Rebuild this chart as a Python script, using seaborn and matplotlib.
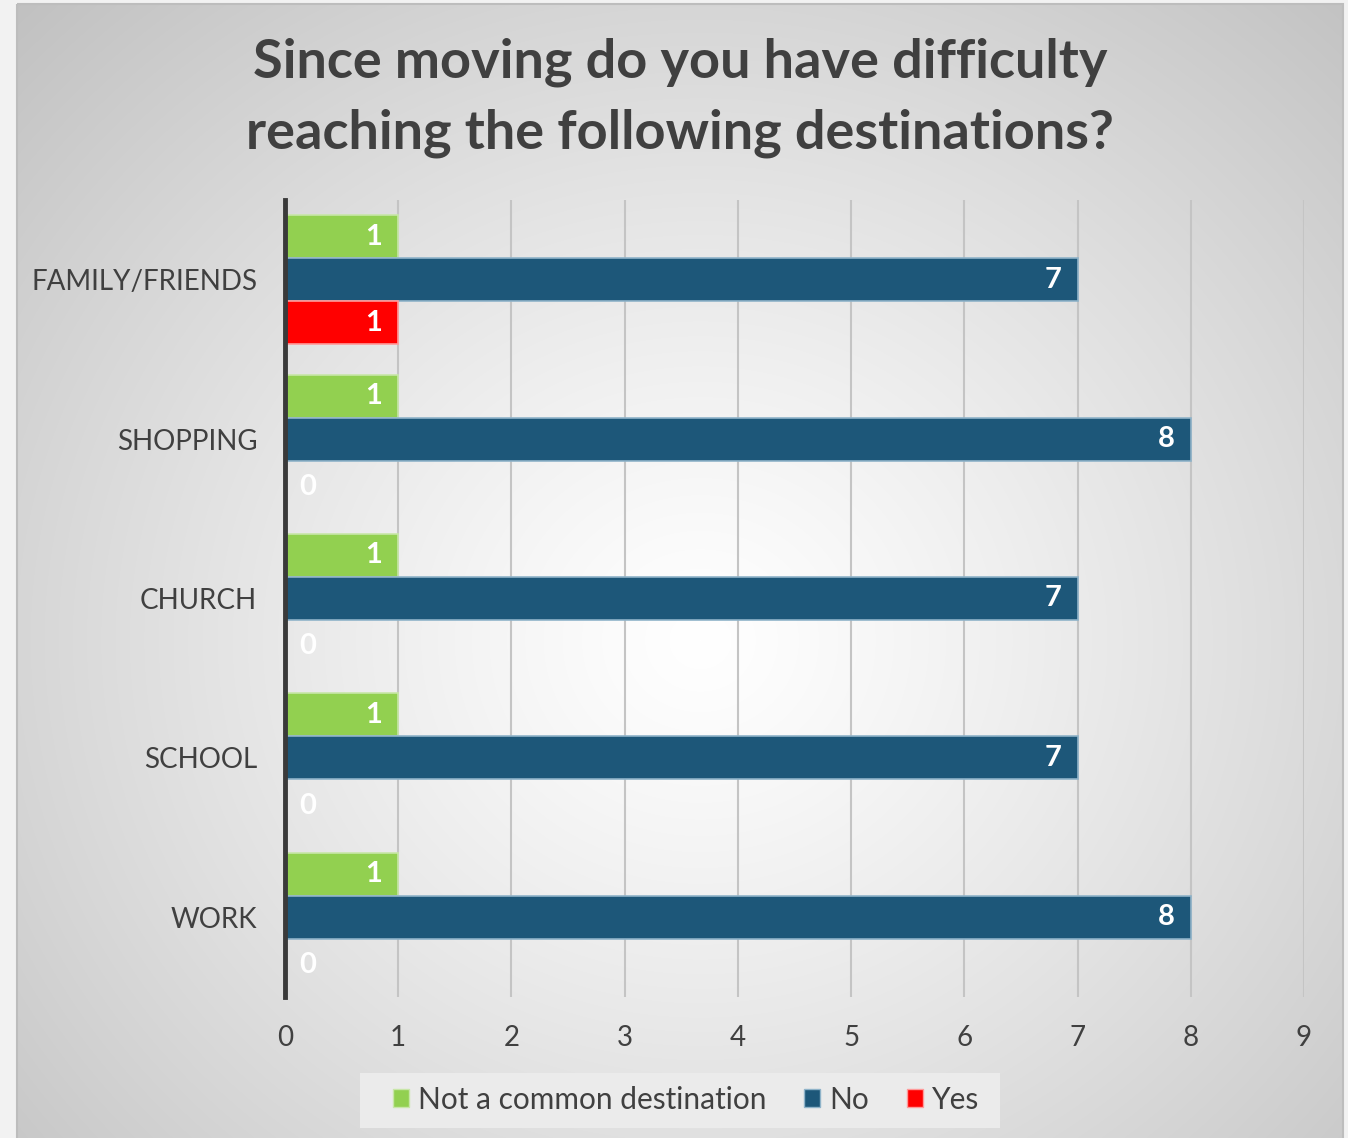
import numpy as np
import pandas as pd
import matplotlib
matplotlib.use("Agg")
import matplotlib.pyplot as plt
from matplotlib.patches import Patch, Rectangle
import seaborn as sns

# Survey responses per destination
destinations = ["FAMILY/FRIENDS", "SHOPPING", "CHURCH", "SCHOOL", "WORK"]
not_common = [1, 1, 1, 1, 1]
no_answers = [7, 8, 7, 7, 8]
yes_answers = [1, 0, 0, 0, 0]
series_names = ["Not a common destination", "No", "Yes"]
series_colors = ["#92D050", "#1D5779", "#FF0000"]
edge_colors = ["#C8E6A8", "#8FB3C9", "#FF9A9A"]
x_ticks = [0, 1, 2, 3, 4, 5, 6, 7, 8, 9]

df = pd.DataFrame({
    "destination": destinations * 3,
    "answer": [series_names[0]] * 5 + [series_names[1]] * 5 + [series_names[2]] * 5,
    "count": not_common + no_answers + yes_answers,
})

sns.set_theme(style="white")
plt.rcParams["font.family"] = ["Lato", "DejaVu Sans"]
text_gray = "#404040"

W, H = 1348, 1138
fig = plt.figure(figsize=(W / 100, H / 100), dpi=100)

# Radial grey backdrop with a pale outer margin
bg = fig.add_axes([0, 0, 1, 1], zorder=-10)
yy, xx = np.mgrid[0:H, 0:W]
r = np.sqrt(((xx - 700) / 820.0) ** 2 + ((yy - 640) / 760.0) ** 2)
shade = 1.0 - 0.2 * np.clip(r, 0, 1.3) ** 1.2
img = np.dstack([shade, shade, shade])
margin = 0.95
img[:, :17] = margin
img[:, 1343:] = margin
img[:4, :] = margin
bg.imshow(img, extent=[0, W, H, 0], aspect="auto", interpolation="bilinear")
bg.add_patch(Rectangle((17, 4), 1326, H, fill=False, edgecolor="#bdbdbd", lw=1.5))
# legend panel
bg.add_patch(Rectangle((360, 1073), 640, 55, facecolor="#ebebeb", edgecolor="none"))
bg.set_xlim(0, W)
bg.set_ylim(H, 0)
bg.axis("off")

ax = fig.add_axes([285 / W, 1 - 997 / H, 1019 / W, 797 / H])
ax.set_facecolor("none")

sns.barplot(
    data=df, y="destination", x="count", hue="answer",
    order=destinations, hue_order=series_names, palette=series_colors,
    saturation=1, orient="h", width=0.81, gap=0, legend=False, ax=ax,
    errorbar=None,
)

for container, ec in zip(ax.containers, edge_colors):
    for patch in container:
        patch.set_edgecolor(ec)
        patch.set_linewidth(1.2)
        patch.set_zorder(3)
        v = patch.get_width()
        yc = patch.get_y() + patch.get_height() / 2
        if v > 0:
            ax.text(v - 0.14, yc, f"{v:g}", ha="right", va="center",
                    color="white", fontsize=21, fontweight="bold", zorder=4)
        else:
            ax.text(0.13, yc + 0.03, "0", ha="left", va="center",
                    color="white", fontsize=21, fontweight="bold", zorder=4)

ax.set_xlim(0, 9)
ax.set_ylim(4.5, -0.5)
ax.set_xticks(x_ticks)
ax.set_xticklabels([str(t) for t in x_ticks])
ax.xaxis.grid(True, color="#c4c4c4", linewidth=1.5, zorder=0)
ax.set_axisbelow(True)
ax.yaxis.grid(False)
for side in ["top", "right", "bottom"]:
    ax.spines[side].set_visible(False)
ax.spines["left"].set_color("#3a3a3a")
ax.spines["left"].set_linewidth(3.5)
ax.spines["left"].set_zorder(5)
ax.tick_params(axis="x", length=0, pad=20, labelsize=20, labelcolor=text_gray)
ax.tick_params(axis="y", length=0, pad=20, labelsize=20, labelcolor=text_gray)
ax.set_xlabel("")
ax.set_ylabel("")

fig.text(680 / W, 1 - 98 / H,
         "Since moving do you have difficulty\nreaching the following destinations?",
         ha="center", va="center", fontsize=39, fontweight="bold",
         color=text_gray, linespacing=1.55)

handles = [Patch(facecolor=c, edgecolor=e, linewidth=1) for c, e in zip(series_colors, edge_colors)]
leg = fig.legend(handles, series_names, loc="center", bbox_to_anchor=(686 / W, 1 - 1100 / H),
                 ncol=3, frameon=False, fontsize=21.5, handlelength=0.55, handleheight=0.55,
                 handletextpad=0.3, columnspacing=1.25, borderpad=0.3)
for t in leg.get_texts():
    t.set_color(text_gray)

fig.savefig("out.png", dpi=100)
